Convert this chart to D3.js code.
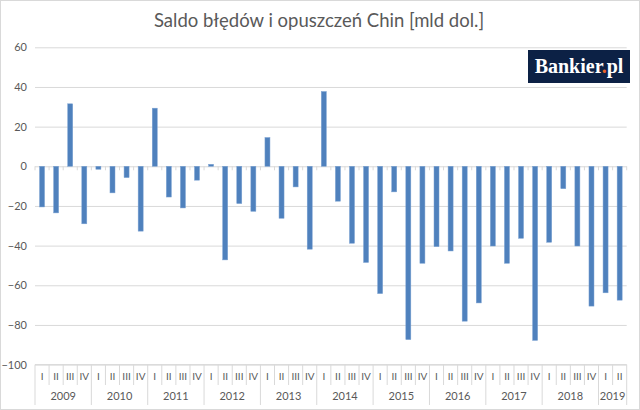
<!DOCTYPE html>
<html>
<head>
<meta charset="utf-8">
<script src="https://cdn.jsdelivr.net/npm/d3@7"></script>
<style>
  body { margin: 0; background: #fff; }
  text { font-family: Lato, "Open Sans", sans-serif; fill: #595959; }
</style>
</head>
<body>
<svg id="chart" width="640" height="410"></svg>
<script>
// data (quarterly, 2009 Q1 .. 2019 Q2)
const years = ["2009", "2010", "2011", "2012", "2013", "2014", "2015", "2016", "2017", "2018", "2019"];
const quarters = ["I", "II", "III", "IV"];
const values = [
    -20.5, -23.5, 31.5, -29.0,
    -1.5, -13.4, -5.7, -32.7,
    29.3, -15.5, -21.0, -7.0,
    1.0, -47.2, -18.8, -22.7,
    14.5, -26.2, -10.4, -41.8,
    37.7, -17.6, -38.8, -48.5,
    -64.2, -12.9, -87.4, -48.9,
    -40.5, -42.7, -78.1, -68.9,
    -40.2, -48.9, -36.3, -87.8,
    -38.3, -11.3, -40.2, -70.5,
    -63.8, -67.5
];
const yTicks = [-100, -80, -60, -40, -20, 0, 20, 40, 60];
const title = "Saldo błędów i opuszczeń Chin [mld dol.]";

const svg = d3.select("#chart");
const plotLeft = 35, plotRight = 626.7, plotTop = 47.3, plotBottom = 364.6;

// outer chart border
svg.append("rect")
    .attr("x", 0.5).attr("y", 0.5)
    .attr("width", 639).attr("height", 409)
    .attr("fill", "#fff").attr("stroke", "#d9d9d9");

svg.append("text")
    .attr("x", 319).attr("y", 27)
    .attr("text-anchor", "middle")
    .style("font-size", "18.5px")
    .text(title);

const idx = values.map((v, i) => i);
const x = d3.scaleBand().domain(idx).range([plotLeft, plotRight])
    .paddingInner(0.645).paddingOuter(0.3225);
const y = d3.scaleLinear().domain([-100, 60]).range([plotBottom, plotTop]);
const step = x.step();

// gridlines
svg.append("g")
    .attr("transform", `translate(${plotLeft},0)`)
    .call(d3.axisLeft(y).tickValues(yTicks).tickSize(-(plotRight - plotLeft)).tickFormat(""))
    .call(g => g.select(".domain").remove())
    .call(g => g.selectAll("line").attr("stroke", "#d9d9d9"));

// y labels
svg.append("g")
    .attr("transform", "translate(27,0)")
    .call(d3.axisLeft(y).tickValues(yTicks).tickSize(0).tickPadding(0))
    .call(g => g.select(".domain").remove())
    .call(g => g.selectAll("text").style("font-size", "11px").attr("fill", "#595959")
        .style("font-family", "Lato, sans-serif"));

// small ticks on the zero line
svg.append("g").selectAll("line")
    .data(d3.range(values.length + 1))
    .join("line")
    .attr("x1", k => plotLeft + k * step).attr("x2", k => plotLeft + k * step)
    .attr("y1", y(0)).attr("y2", y(0) + 4)
    .attr("stroke", "#d9d9d9");

// bars
svg.append("g").selectAll("rect")
    .data(values)
    .join("rect")
    .attr("x", (d, i) => x(i))
    .attr("width", x.bandwidth())
    .attr("y", d => y(Math.max(0, d)))
    .attr("height", d => Math.abs(y(d) - y(0)))
    .attr("fill", "#4f81bd")
    .attr("stroke", "#7aa1d2")
    .attr("stroke-width", 0.5);

// two-level category axis
const cat = svg.append("g");
cat.append("line")
    .attr("x1", plotLeft).attr("x2", plotRight)
    .attr("y1", plotBottom).attr("y2", plotBottom)
    .attr("stroke", "#d9d9d9");

cat.selectAll(".qsep")
    .data(d3.range(values.length + 1))
    .join("line")
    .attr("class", "qsep")
    .attr("x1", k => plotLeft + k * step).attr("x2", k => plotLeft + k * step)
    .attr("y1", plotBottom)
    .attr("y2", k => (k % 4 === 0 || k === values.length) ? 405 : 385)
    .attr("stroke", "#d9d9d9");

cat.selectAll(".qlab")
    .data(values)
    .join("text")
    .attr("class", "qlab")
    .attr("x", (d, i) => x(i) + x.bandwidth() / 2)
    .attr("y", 380)
    .attr("text-anchor", "middle")
    .style("font-size", "10px")
    .text((d, i) => quarters[i % 4]);

cat.selectAll(".ylab")
    .data(years)
    .join("text")
    .attr("class", "ylab")
    .attr("x", (d, j) => {
        const n = Math.min(4, values.length - j * 4);
        return plotLeft + (j * 4 + n / 2) * step;
    })
    .attr("y", 400)
    .attr("text-anchor", "middle")
    .style("font-size", "11px")
    .text(d => d);

// logo
const logo = svg.append("g");
logo.append("rect")
    .attr("x", 528).attr("y", 50)
    .attr("width", 102).attr("height", 33)
    .attr("fill", "#0c2145");
const lt = logo.append("text")
    .attr("x", 579).attr("y", 73)
    .attr("text-anchor", "middle")
    .style("font-family", "'Liberation Serif', serif")
    .style("font-weight", "bold")
    .style("font-size", "20px")
    .style("fill", "#fff");
lt.append("tspan").text("Bankier");
lt.append("tspan").style("fill", "#e8622a").text(".");
lt.append("tspan").text("pl");
</script>
</body>
</html>
